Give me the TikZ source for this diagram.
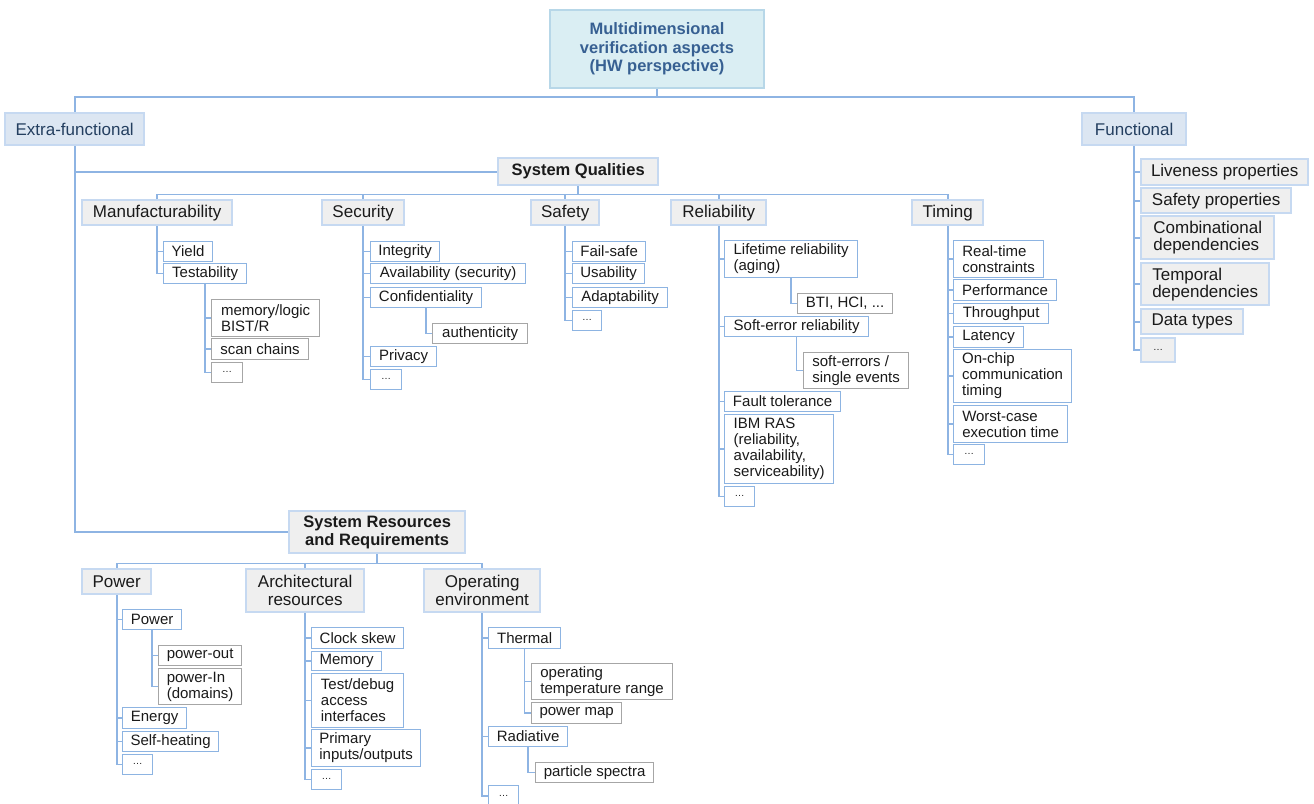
\documentclass[tikz,border=0pt]{standalone}
\usepackage{fontspec}
\setmainfont{Liberation Sans}
\definecolor{lineblue}{HTML}{8EB4E3}
\definecolor{lb}{HTML}{C6D9F1}
\definecolor{gfill}{HTML}{EFEFEF}
\definecolor{catfill}{HTML}{DCE6F2}
\definecolor{navy}{HTML}{243F60}
\definecolor{rootfill}{HTML}{DAEEF3}
\definecolor{rootdraw}{HTML}{B7D7E8}
\definecolor{rootblue}{HTML}{376092}
\definecolor{bthree}{HTML}{8DB4E2}
\definecolor{gfour}{HTML}{A6A6A6}
\definecolor{txt}{HTML}{1A1A1A}
\newcommand{\bx}[7]{\node[#1, minimum width={#5-#3}, minimum height={#6-#4}] (#2) at (#3,#4) {#7};}
\newcommand{\eld}{{\fontsize{10}{10}\selectfont\raisebox{1.2pt}{…}}}
\tikzset{
  box/.style={anchor=north west, inner xsep=3pt, inner ysep=2pt, align=left, text=txt},
  lvtwo/.style={box, fill=gfill, draw=lb, line width=2.4pt, font=\fontsize{17}{18}\selectfont, align=center},
  lvbold/.style={lvtwo, font=\bfseries\fontsize{16.5}{18.5}\selectfont},
  lvthree/.style={box, fill=white, draw=bthree, line width=1.2pt, font=\fontsize{15}{16}\selectfont},
  lvfour/.style={lvthree, draw=gfour},
  fnk/.style={box, fill=gfill, draw=lb, line width=2.4pt, font=\fontsize{17}{17}\selectfont},
  cat/.style={box, fill=catfill, draw=lb, line width=2.4pt, text=navy, font=\fontsize{17}{18}\selectfont, align=center},
  rootst/.style={box, fill=rootfill, draw=rootdraw, line width=2pt, text=rootblue, font=\bfseries\fontsize{16.5}{18.5}\selectfont, align=center},
  conn/.style={draw=lineblue, line width=1.6pt}
}
\begin{document}
\begin{tikzpicture}[x=1pt,y=-1pt]
\useasboundingbox (0,0) rectangle (1314,803);
% top
\bx{rootst}{root}{549}{9}{763}{87}{Multidimensional\\verification aspects\\(HW perspective)}
\bx{cat}{ef}{4}{112}{143}{144}{Extra-functional}
\bx{cat}{fn}{1081}{112}{1185}{144}{Functional}
\bx{lvbold}{sq}{497}{157}{657}{184}{System Qualities}
\bx{lvtwo}{man}{81}{199}{231}{224}{Manufacturability}
\bx{lvtwo}{sec}{321}{199}{403}{224}{Security}
\bx{lvtwo}{saf}{530}{199}{598}{224}{Safety}
\bx{lvtwo}{rel}{670}{199}{765}{224}{Reliability}
\bx{lvtwo}{tim}{911}{199}{982}{224}{Timing}
% manufacturability
\bx{lvthree}{yield}{163}{241}{212}{261}{Yield}
\bx{lvthree}{test}{163}{263}{246}{283}{Testability}
\bx{lvfour}{mbist}{211}{299}{319}{336}{memory/logic\\BIST/R}
\bx{lvfour}{scan}{211}{338}{308}{359}{scan chains}
\bx{lvfour}{mdots}{211}{362}{242}{382}{\eld}
% security
\bx{lvthree}{integ}{370}{241}{439}{261}{Integrity}
\bx{lvthree}{avail}{370}{263}{525}{283}{Availability (security)}
\bx{lvthree}{conf}{370}{287}{481}{307}{Confidentiality}
\bx{lvfour}{auth}{432}{323}{527}{343}{authenticity}
\bx{lvthree}{priv}{370}{346}{436}{366}{Privacy}
\bx{lvthree}{sdots}{370}{369}{401}{389}{\eld}
% safety
\bx{lvthree}{fsafe}{572}{241}{645}{261}{Fail-safe}
\bx{lvthree}{usab}{572}{263}{644}{283}{Usability}
\bx{lvthree}{adapt}{572}{287}{667}{307}{Adaptability}
\bx{lvthree}{safdots}{572}{310}{601}{330}{\eld}
% reliability
\bx{lvthree}{life}{724}{240}{857}{277}{Lifetime reliability\\(aging)}
\bx{lvfour}{bti}{797}{293}{892}{313}{BTI, HCI, ...}
\bx{lvthree}{soft}{724}{316}{868}{336}{Soft-error reliability}
\bx{lvfour}{seu}{803}{352}{908}{388}{soft-errors /\\single events}
\bx{lvthree}{ft}{724}{391}{840}{411}{Fault tolerance}
\bx{lvthree}{ibm}{724}{414}{833}{483}{IBM RAS\\(reliability,\\availability,\\serviceability)}
\bx{lvthree}{rdots}{724}{486}{754}{506}{\eld}
% timing
\bx{lvthree}{rt}{953}{240}{1043}{277}{Real-time\\constraints}
\bx{lvthree}{perf}{953}{279}{1056}{300}{Performance}
\bx{lvthree}{thr}{953}{303}{1048}{323}{Throughput}
\bx{lvthree}{lat}{953}{326}{1023}{347}{Latency}
\bx{lvthree}{onchip}{953}{349}{1071}{402}{On-chip\\communication\\timing}
\bx{lvthree}{wcet}{953}{405}{1067}{442}{Worst-case\\execution time}
\bx{lvthree}{tdots}{953}{444}{984}{464}{\eld}
% functional
\bx{fnk}{live}{1140}{158}{1307}{184}{Liveness properties}
\bx{fnk}{safp}{1140}{187}{1290}{212}{Safety properties}
\bx{fnk}{comb}{1140}{215}{1273}{258}{Combinational\\dependencies}
\bx{fnk}{temp}{1140}{262}{1268}{304}{Temporal\\dependencies}
\bx{fnk}{dtype}{1140}{308}{1242}{333}{Data types}
\bx{fnk}{fdots}{1140}{337}{1174}{361}{\eld}
% resources
\bx{lvbold}{sr}{288}{510}{464}{552}{System Resources\\and Requirements}
\bx{lvtwo}{pow}{81}{568}{150}{593}{Power}
\bx{lvtwo}{arch}{245}{568}{363}{611}{Architectural\\resources}
\bx{lvtwo}{openv}{423}{568}{539}{611}{Operating\\environment}
% power
\bx{lvthree}{pw}{122}{609}{181}{629}{Power}
\bx{lvfour}{pout}{158}{645}{241}{665}{power-out}
\bx{lvfour}{pin}{158}{668}{241}{704}{power-In\\(domains)}
\bx{lvthree}{energy}{122}{707}{186}{728}{Energy}
\bx{lvthree}{selfh}{122}{731}{218}{751}{Self-heating}
\bx{lvthree}{pdots}{122}{754}{152}{774}{\eld}
% architectural
\bx{lvthree}{clk}{311}{627}{403}{648}{Clock skew}
\bx{lvthree}{mem}{311}{651}{381}{670}{Memory}
\bx{lvthree}{tdbg}{311}{673}{403}{727}{Test/debug\\access\\interfaces}
\bx{lvthree}{pio}{311}{729}{420}{766}{Primary\\inputs/outputs}
\bx{lvthree}{adots}{311}{769}{341}{789}{\eld}
% operating environment
\bx{lvthree}{therm}{488}{627}{560}{648}{Thermal}
\bx{lvfour}{optemp}{531}{663}{672}{699}{operating\\temperature range}
\bx{lvfour}{pmap}{531}{702}{621}{723}{power map}
\bx{lvthree}{rad}{488}{726}{567}{746}{Radiative}
\bx{lvfour}{part}{535}{762}{653}{782}{particle spectra}
\bx{lvthree}{odots}{488}{785}{518}{806}{\eld}
% connectors
\draw[conn] (root.south) -- ++(0,8) -| (ef.north);
\draw[conn] (root.south) -- ++(0,8) -| (fn.north);
\draw[conn] (ef.south) |- (sq.west);
\draw[conn] (ef.south) |- (sr.west);
\foreach \c in {man,sec,saf,rel,tim} \draw[conn] (sq.south) -- ++(0,8) -| (\c.north);
\foreach \c in {pow,arch,openv} \draw[conn] (sr.south) -- ++(0,9) -| (\c.north);
\foreach \c in {live,safp,comb,temp,dtype,fdots} \draw[conn] (fn.south) |- (\c.west);
\foreach \c in {yield,test} \draw[conn] (man.south) |- (\c.west);
\foreach \c in {mbist,scan,mdots} \draw[conn] (test.south) |- (\c.west);
\foreach \c in {integ,avail,conf,priv,sdots} \draw[conn] (sec.south) |- (\c.west);
\draw[conn] (conf.south) |- (auth.west);
\foreach \c in {fsafe,usab,adapt,safdots} \draw[conn] (saf.south) |- (\c.west);
\foreach \c in {life,soft,ft,ibm,rdots} \draw[conn] (rel.south) |- (\c.west);
\draw[conn] (life.south) |- (bti.west);
\draw[conn] (soft.south) |- (seu.west);
\foreach \c in {rt,perf,thr,lat,onchip,wcet,tdots} \draw[conn] (tim.south) |- (\c.west);
\foreach \c in {pw,energy,selfh,pdots} \draw[conn] (pow.south) |- (\c.west);
\foreach \c in {pout,pin} \draw[conn] (pw.south) |- (\c.west);
\foreach \c in {clk,mem,tdbg,pio,adots} \draw[conn] (arch.south) |- (\c.west);
\foreach \c in {therm,rad,odots} \draw[conn] (openv.south) |- (\c.west);
\foreach \c in {optemp,pmap} \draw[conn] (therm.south) |- (\c.west);
\draw[conn] (rad.south) |- (part.west);
\end{tikzpicture}
\end{document}
